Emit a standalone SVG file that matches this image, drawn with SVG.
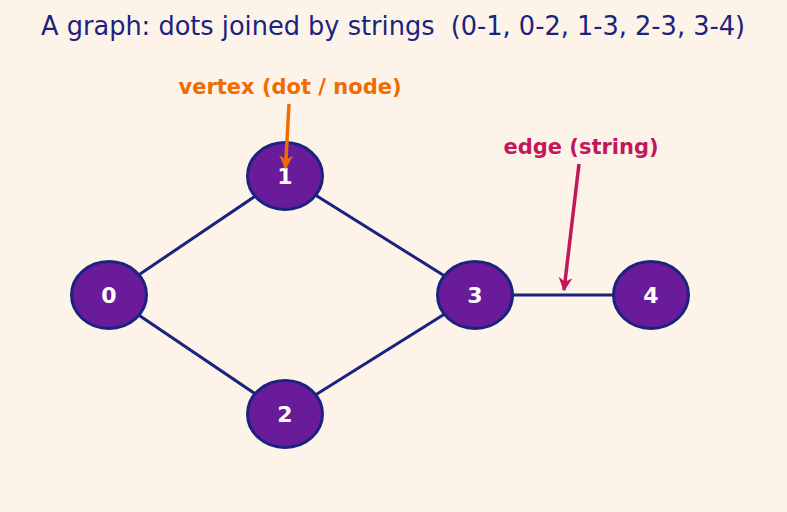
<svg xmlns="http://www.w3.org/2000/svg" width="787" height="512" viewBox="0 0 787 512">
<style>
.node ellipse{fill:#6a1b9a;stroke:#1a237e;stroke-width:3}
.node text{font-family:"DejaVu Sans",sans-serif;font-weight:bold;font-size:22px;fill:#ffffff;text-anchor:middle}
.edge{stroke:#1a237e;stroke-width:3;fill:none}
.lbl{font-family:"DejaVu Sans",sans-serif;font-weight:bold;font-size:21px;text-anchor:middle}
</style>
<defs>
<marker id="ao" viewBox="0 0 10 10" refX="9" refY="5" markerWidth="4" markerHeight="4" orient="auto" markerUnits="strokeWidth"><path d="M0,0 L10,5 L0,10 L3,5 z" fill="#ef6c00"/></marker>
<marker id="ap" viewBox="0 0 10 10" refX="9" refY="5" markerWidth="4" markerHeight="4" orient="auto" markerUnits="strokeWidth"><path d="M0,0 L10,5 L0,10 L3,5 z" fill="#c2185b"/></marker>
</defs>
<rect width="787" height="512" fill="#fef3e8"/>
<text x="393" y="35" font-family="DejaVu Sans, sans-serif" font-size="26" fill="#1a237e" text-anchor="middle" textLength="704" lengthAdjust="spacingAndGlyphs" xml:space="preserve" style="white-space:pre">A graph: dots joined by strings  (0-1, 0-2, 1-3, 2-3, 3-4)</text>
<g id="edges">
<line class="edge" x1="109" y1="295" x2="285" y2="176"/>
<line class="edge" x1="109" y1="295" x2="285" y2="414"/>
<line class="edge" x1="285" y1="176" x2="475" y2="295"/>
<line class="edge" x1="285" y1="414" x2="475" y2="295"/>
<line class="edge" x1="475" y1="295" x2="651" y2="295"/>
</g>
<g id="node0" class="node"><ellipse cx="109" cy="295" rx="37.5" ry="33.5"/><text x="109" y="302.5">0</text></g>
<g id="node1" class="node"><ellipse cx="285" cy="176" rx="37.5" ry="33.5"/><text x="285" y="183.5">1</text></g>
<g id="node2" class="node"><ellipse cx="285" cy="414" rx="37.5" ry="33.5"/><text x="285" y="421.5">2</text></g>
<g id="node3" class="node"><ellipse cx="475" cy="295" rx="37.5" ry="33.5"/><text x="475" y="302.5">3</text></g>
<g id="node4" class="node"><ellipse cx="651" cy="295" rx="37.5" ry="33.5"/><text x="651" y="302.5">4</text></g>
<g id="annotations">
<text class="lbl" x="290" y="94" fill="#ef6c00">vertex (dot / node)</text>
<line x1="289" y1="104" x2="285.5" y2="168" stroke="#ef6c00" stroke-width="3.5" marker-end="url(#ao)"/>
<text class="lbl" x="581" y="154" fill="#c2185b">edge (string)</text>
<line x1="579" y1="164" x2="564" y2="290" stroke="#c2185b" stroke-width="3.5" marker-end="url(#ap)"/>
</g>
</svg>
